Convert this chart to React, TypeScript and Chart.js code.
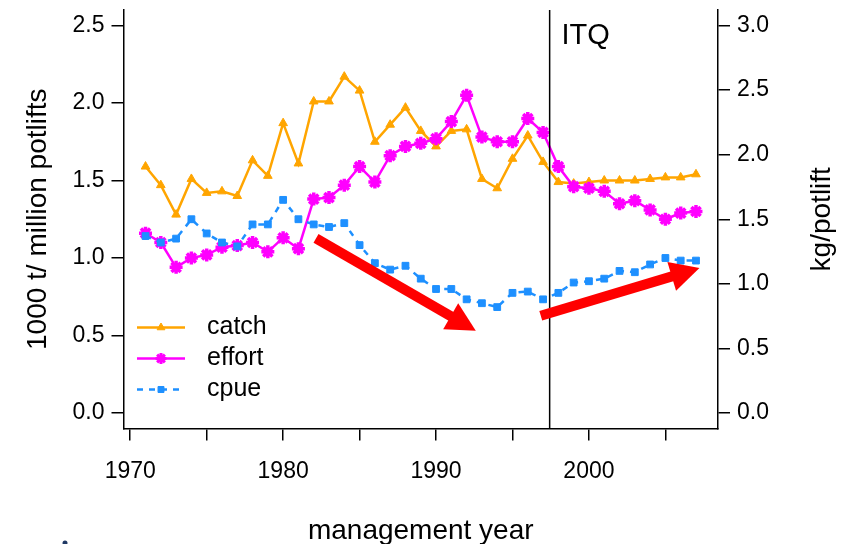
import React, { useEffect, useRef } from "react";
import { Chart, registerables } from "chart.js";
import { drawPoint } from "chart.js/helpers";

Chart.register(...registerables);

const FONT = "'Liberation Sans', Arial, Helvetica, sans-serif";

// ---------- data ----------
const years = [
  1971, 1972, 1973, 1974, 1975, 1976, 1977, 1978, 1979, 1980,
  1981, 1982, 1983, 1984, 1985, 1986, 1987, 1988, 1989, 1990,
  1991, 1992, 1993, 1994, 1995, 1996, 1997, 1998, 1999, 2000,
  2001, 2002, 2003, 2004, 2005, 2006, 2007,
];
// 1000 t
const catchValues = [
  1.59, 1.47, 1.28, 1.51, 1.42, 1.43, 1.40, 1.63, 1.53, 1.87,
  1.61, 2.01, 2.01, 2.17, 2.08, 1.75, 1.86, 1.97, 1.82, 1.72,
  1.82, 1.83, 1.51, 1.45, 1.64, 1.79, 1.62, 1.49, 1.48, 1.49,
  1.50, 1.50, 1.50, 1.51, 1.52, 1.52, 1.54,
];
// million potlifts
const effortValues = [
  1.16, 1.10, 0.94, 1.00, 1.02, 1.07, 1.08, 1.10, 1.04, 1.13,
  1.06, 1.38, 1.39, 1.47, 1.59, 1.49, 1.66, 1.72, 1.74, 1.77,
  1.88, 2.05, 1.78, 1.75, 1.75, 1.90, 1.81, 1.59, 1.46, 1.45,
  1.43, 1.35, 1.37, 1.31, 1.25, 1.29, 1.30,
];
// kg/potlift (right axis)
const cpueValues = [
  1.37, 1.32, 1.35, 1.50, 1.39, 1.32, 1.29, 1.46, 1.46, 1.65,
  1.50, 1.46, 1.44, 1.47, 1.30, 1.16, 1.11, 1.14, 1.04, 0.96,
  0.96, 0.88, 0.85, 0.82, 0.93, 0.94, 0.88, 0.93, 1.01, 1.02,
  1.04, 1.10, 1.09, 1.15, 1.20, 1.18, 1.18,
];

const seriesLabels = ["catch", "effort", "cpue"];
const leftTicks = [0, 0.5, 1.0, 1.5, 2.0, 2.5];
const rightTicks = [0, 0.5, 1.0, 1.5, 2.0, 2.5, 3.0];
const xTicks = [1970, 1975, 1980, 1985, 1990, 1995, 2000, 2005];
const xLabelled = [1970, 1980, 1990, 2000];

const xTitle = "management year";
const yLeftTitle = "1000 t/ million potlifts";
const yRightTitle = "kg/potlift";

// annotations (data coordinates, left axis)
const itqYear = 1997.43;
const itqLabel = "ITQ";
const itqLabelAt = [1998.2, 2.435];
const arrowTrends = [
  { from: [1982.15, 1.127], to: [1992.6, 0.531] },
  { from: [1996.85, 0.627], to: [2007.23, 0.935] },
];

// ---------- styles ----------
const ORANGE = "#FFA500";
const MAGENTA = "#FF00FF";
const BLUE = "#1E90FF";
const RED = "#FF0000";

const toXY = (vals: number[]) => vals.map((v, i) => ({ x: years[i], y: v }));

function drawArrow(ctx: CanvasRenderingContext2D, x1: number, y1: number, x2: number, y2: number) {
  const ang = Math.atan2(y2 - y1, x2 - x1);
  const headLen = 29;
  const headHalf = 15;
  const c = Math.cos(ang);
  const s = Math.sin(ang);
  const bx = x2 - headLen * c;
  const by = y2 - headLen * s;
  ctx.strokeStyle = RED;
  ctx.fillStyle = RED;
  ctx.lineWidth = 10;
  ctx.lineCap = "butt";
  ctx.setLineDash([]);
  ctx.beginPath();
  ctx.moveTo(x1, y1);
  ctx.lineTo(bx + 2 * c, by + 2 * s);
  ctx.stroke();
  ctx.beginPath();
  ctx.moveTo(x2, y2);
  ctx.lineTo(bx + headHalf * s, by - headHalf * c);
  ctx.lineTo(bx - headHalf * s, by + headHalf * c);
  ctx.closePath();
  ctx.fill();
}

const overlayPlugin = {
  id: "overlay",
  afterDatasetsDraw(chart: any) {
    const { ctx, chartArea, scales } = chart;
    const xs = scales.x;
    const ys = scales.y;
    ctx.save();
    // ITQ line
    const xi = xs.getPixelForValue(itqYear);
    ctx.strokeStyle = "#000";
    ctx.lineWidth = 1.5;
    ctx.beginPath();
    ctx.moveTo(xi, chartArea.top);
    ctx.lineTo(xi, chartArea.bottom);
    ctx.stroke();
    // ITQ label
    ctx.fillStyle = "#000";
    ctx.font = `29px ${FONT}`;
    ctx.textAlign = "left";
    ctx.textBaseline = "middle";
    ctx.fillText(itqLabel, xs.getPixelForValue(itqLabelAt[0]), ys.getPixelForValue(itqLabelAt[1]));
    // arrows
    for (const a of arrowTrends) {
      drawArrow(
        ctx,
        xs.getPixelForValue(a.from[0]),
        ys.getPixelForValue(a.from[1]),
        xs.getPixelForValue(a.to[0]),
        ys.getPixelForValue(a.to[1])
      );
    }
    ctx.restore();
  },
  afterDraw(chart: any) {
    const { ctx, chartArea } = chart;
    ctx.save();
    ctx.fillStyle = "#000";
    ctx.font = `28px ${FONT}`;
    ctx.textAlign = "center";
    ctx.textBaseline = "middle";
    const midY = (chartArea.top + chartArea.bottom) / 2;
    const midX = (chartArea.left + chartArea.right) / 2;
    // left title
    ctx.save();
    ctx.translate(38, midY);
    ctx.rotate(-Math.PI / 2);
    ctx.fillText(yLeftTitle, 0, 0);
    ctx.restore();
    // right title
    ctx.save();
    ctx.translate(822, midY);
    ctx.rotate(-Math.PI / 2);
    ctx.fillText(yRightTitle, 0, 0);
    ctx.restore();
    // bottom title
    ctx.fillText(xTitle, midX, 531);

    // legend
    const items = [
      { label: seriesLabels[0], color: ORANGE, style: "triangle", r: 4.5, bw: 1, dash: [] as number[] },
      { label: seriesLabels[1], color: MAGENTA, style: "star", r: 5.5, bw: 3, dash: [] as number[] },
      { label: seriesLabels[2], color: BLUE, style: "rect", r: 4.2, bw: 1, dash: [6, 6] },
    ];
    const lx0 = 137;
    const lx1 = 185;
    const tx = 207;
    const y0 = 327.5;
    const dy = 31;
    items.forEach((it, i) => {
      const yy = y0 + i * dy;
      ctx.strokeStyle = it.color;
      ctx.fillStyle = it.color;
      ctx.lineWidth = 2.5;
      ctx.setLineDash(it.dash);
      ctx.beginPath();
      ctx.moveTo(lx0, yy);
      ctx.lineTo(lx1, yy);
      ctx.stroke();
      ctx.setLineDash([]);
      ctx.lineWidth = it.bw;
      drawPoint(ctx, { pointStyle: it.style, radius: it.r, borderWidth: it.bw, rotation: 0 } as any, (lx0 + lx1) / 2, yy);
      ctx.fillStyle = "#000";
      ctx.font = `25px ${FONT}`;
      ctx.textAlign = "left";
      ctx.textBaseline = "middle";
      ctx.fillText(it.label, tx, yy);
    });

    // small cut-off mark at the bottom-left
    ctx.fillStyle = "#1F3864";
    ctx.beginPath();
    ctx.arc(65, 543, 2.5, 0, Math.PI * 2);
    ctx.fill();
    ctx.restore();
  },
};

const noPadY = (w: number) => (s: any) => {
  s.width = w;
  s.paddingTop = 0;
  s.paddingBottom = 0;
};

export default function App() {
  const ref = useRef<HTMLCanvasElement>(null);
  useEffect(() => {
    Chart.defaults.font.family = FONT;
    Chart.defaults.color = "#000";
    const chart = new Chart(ref.current!, {
      type: "line",
      data: {
        datasets: [
          {
            label: seriesLabels[0],
            data: toXY(catchValues),
            yAxisID: "y",
            borderColor: ORANGE,
            backgroundColor: ORANGE,
            borderWidth: 2.5,
            pointStyle: "triangle",
            pointRadius: 5,
            pointBorderWidth: 1,
            order: 3,
          },
          {
            label: seriesLabels[1],
            data: toXY(effortValues),
            yAxisID: "y",
            borderColor: MAGENTA,
            backgroundColor: MAGENTA,
            borderWidth: 2.5,
            pointStyle: "star",
            pointRadius: 6.5,
            pointBorderWidth: 3.5,
            order: 2,
          },
          {
            label: seriesLabels[2],
            data: toXY(cpueValues),
            yAxisID: "y2",
            borderColor: BLUE,
            backgroundColor: BLUE,
            borderWidth: 2.5,
            borderDash: [6, 6],
            pointStyle: "rect",
            pointRadius: 4.8,
            pointBorderWidth: 1,
            order: 1,
          },
        ],
      },
      options: {
        animation: false,
        responsive: false,
        maintainAspectRatio: false,
        layout: { padding: { top: 6.5, left: 0, right: 0, bottom: 0 } },
        plugins: { legend: { display: false }, tooltip: { enabled: false } },
        elements: { line: { tension: 0 } },
        scales: {
          x: {
            type: "linear",
            min: 1969.56,
            max: 2008.44,
            afterBuildTicks: (s: any) => {
              s.ticks = xTicks.map((v) => ({ value: v }));
            },
            afterFit: (s: any) => {
              s.height = 115.5;
              s.paddingLeft = 0;
              s.paddingRight = 0;
            },
            grid: { drawOnChartArea: false, drawTicks: true, tickLength: 12, color: "#000", lineWidth: 1.5 },
            border: { display: true, color: "#000", width: 1.5 },
            ticks: {
              autoSkip: false,
              maxRotation: 0,
              padding: 17,
              font: { size: 23, family: FONT },
              color: "#000",
              callback: (v: any) => (xLabelled.includes(Number(v)) ? String(v) : ""),
            },
          },
          y: {
            type: "linear",
            position: "left",
            min: -0.1,
            max: 2.6,
            afterBuildTicks: (s: any) => {
              s.ticks = leftTicks.map((v) => ({ value: v }));
            },
            afterFit: noPadY(123.5),
            grid: { drawOnChartArea: false, drawTicks: true, tickLength: 12, color: "#000", lineWidth: 1.5 },
            border: { display: true, color: "#000", width: 1.5 },
            ticks: {
              padding: 7,
              font: { size: 23, family: FONT },
              color: "#000",
              callback: (v: any) => Number(v).toFixed(1),
            },
          },
          y2: {
            type: "linear",
            position: "right",
            min: -0.12,
            max: 3.12,
            afterBuildTicks: (s: any) => {
              s.ticks = rightTicks.map((v) => ({ value: v }));
            },
            afterFit: noPadY(127),
            grid: { drawOnChartArea: false, drawTicks: true, tickLength: 12, color: "#000", lineWidth: 1.5 },
            border: { display: true, color: "#000", width: 1.5 },
            ticks: {
              padding: 7,
              font: { size: 23, family: FONT },
              color: "#000",
              callback: (v: any) => Number(v).toFixed(1),
            },
          },
        },
      },
      plugins: [overlayPlugin],
    } as any);
    return () => chart.destroy();
  }, []);
  return (
    <div style={{ position: "absolute", left: 0, top: 0, width: 845, height: 544, background: "#fff" }}>
      <canvas ref={ref} width={845} height={544} style={{ display: "block", width: 845, height: 544 }} />
    </div>
  );
}
